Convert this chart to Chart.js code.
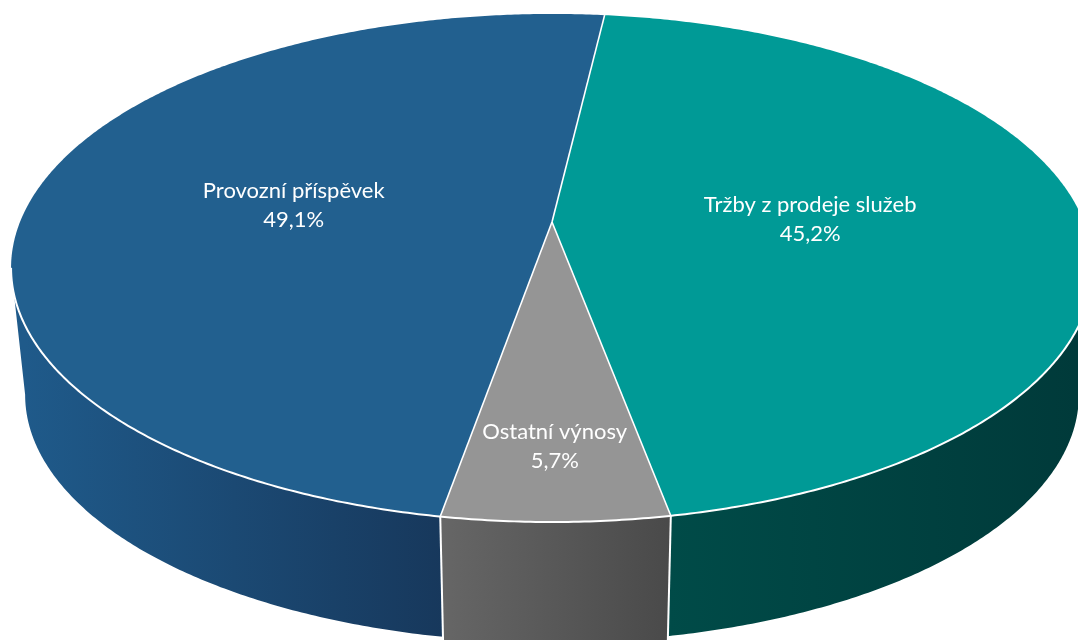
<!DOCTYPE html>
<html>
<head>
<meta charset="utf-8">
<style>
  html, body { margin: 0; padding: 0; background: #fff; }
  #wrap { width: 1078px; height: 640px; overflow: hidden; }
</style>
<script src="https://cdn.jsdelivr.net/npm/chart.js@4"></script>
</head>
<body>
<div id="wrap"><canvas id="pie3d"></canvas></div>
<script>
// chart data
const categories = ["Tržby z prodeje služeb", "Ostatní výnosy", "Provozní příspěvek"];
const shares = [45.2, 5.7, 49.1];

// colours: top face, wall gradient left and right
const topColors = ["#009a96", "#959595", "#22608f"];
const wallLeft = ["#004b48", "#666666", "#1f5a8a"];
const wallRight = ["#003a3a", "#4a4a4a", "#17385c"];
const labelDistance = [0.487, 0.78, 0.497];

// perspective of the tilted disc, apex is the point where the slices meet
const apex = { x: 552, y: 222 };
const radiusX = 532, radiusY = 245.7;
const tilt = 0.181;
const wallDrop = 128, wallShrink = 0.974;
// the grey wall runs past the bottom of the picture
const wallExtra = [0, 8, 0];

// arc angles from Chart.js start at 12 o'clock minus 90deg, so cos/sin map directly
// low is undefined for the top rim, otherwise the extra drop of the wall's lower rim
function project(angle, r, low) {
    const px = Math.cos(angle) * r, py = Math.sin(angle) * r;
    const w = 1 - tilt * py;
    let u = radiusX * px / w, v = radiusY * py / w;
    if (low !== undefined) {
        u *= wallShrink;
        v = v * wallShrink + wallDrop + low;
    }
    return { x: apex.x + u, y: apex.y + v };
}

function traceRim(ctx, from, to, low, moveFirst) {
    const steps = Math.max(2, Math.ceil(Math.abs(to - from) * 120));
    for (let i = 0; i <= steps; i++) {
        const p = project(from + (to - from) * i / steps, 1, low);
        if (i === 0 && moveFirst) ctx.moveTo(p.x, p.y);
        else ctx.lineTo(p.x, p.y);
    }
}

// angle where the rim is furthest left/right, the wall is only visible between them
function wallLimits() {
    let right = 0, left = Math.PI, maxX = -1e9, minX = 1e9;
    for (let a = -0.5; a < Math.PI + 0.5; a += 0.002) {
        const x = project(a, 1).x;
        if (x > maxX) { maxX = x; right = a; }
        if (x < minX) { minX = x; left = a; }
    }
    return [right, left];
}

const disc3d = {
    id: "disc3d",
    beforeDatasetsDraw(chart) {
        const ctx = chart.ctx;
        const arcs = chart.getDatasetMeta(0).data;
        const [front0, front1] = wallLimits();

        ctx.save();
        ctx.lineJoin = "round";
        ctx.strokeStyle = "#ffffff";

        // walls
        arcs.forEach((arc, i) => {
            const from = Math.max(arc.startAngle, front0), to = Math.min(arc.endAngle, front1);
            if (to <= from) return;
            // going clockwise along the front means moving right to left
            const grad = ctx.createLinearGradient(project(to, 1, 0).x, 0, project(from, 1, 0).x, 0);
            grad.addColorStop(0, wallLeft[i]);
            grad.addColorStop(1, wallRight[i]);
            ctx.beginPath();
            traceRim(ctx, from, to, undefined, true);
            traceRim(ctx, to, from, wallExtra[i], false);
            ctx.closePath();
            ctx.fillStyle = grad;
            ctx.fill();
        });

        // white seams on the wall
        ctx.lineWidth = 2;
        [arcs[0].endAngle, arcs[1].endAngle].forEach(a => {
            const p = project(a, 1), q = project(a, 1, wallExtra[1]);
            ctx.beginPath();
            ctx.moveTo(p.x, p.y);
            ctx.lineTo(q.x, q.y);
            ctx.stroke();
        });

        // top face
        arcs.forEach((arc, i) => {
            ctx.beginPath();
            ctx.moveTo(apex.x, apex.y);
            traceRim(ctx, arc.startAngle, arc.endAngle, undefined, false);
            ctx.closePath();
            ctx.fillStyle = topColors[i];
            ctx.fill();
        });

        // slice edges, only front rim is white
        ctx.lineWidth = 1.6;
        arcs.forEach(arc => {
            ctx.beginPath();
            ctx.moveTo(apex.x, apex.y);
            const p = project(arc.startAngle, 1);
            ctx.lineTo(p.x, p.y);
            ctx.stroke();
        });
        ctx.lineWidth = 2;
        ctx.beginPath();
        traceRim(ctx, front0, front1, undefined, true);
        ctx.stroke();

        // labels
        ctx.fillStyle = "#ffffff";
        ctx.font = "22px Lato";
        ctx.textAlign = "center";
        ctx.textBaseline = "middle";
        arcs.forEach((arc, i) => {
            const mid = (arc.startAngle + arc.endAngle) / 2;
            const p = project(mid, labelDistance[i]);
            ctx.fillText(categories[i], p.x, p.y - 13.5);
            ctx.fillText(shares[i].toFixed(1).replace(".", ",") + "%", p.x, p.y + 15.5);
        });
        ctx.restore();
        return false;
    }
};

new Chart(document.getElementById("pie3d"), {
    type: "pie",
    data: {
        labels: categories,
        datasets: [{ data: shares, backgroundColor: topColors, borderWidth: 0 }]
    },
    options: {
        responsive: true,
        maintainAspectRatio: false,
        animation: false,
        rotation: 6.7,
        plugins: {
            legend: { display: false },
            tooltip: { enabled: false }
        }
    },
    plugins: [disc3d]
});
</script>
</body>
</html>
